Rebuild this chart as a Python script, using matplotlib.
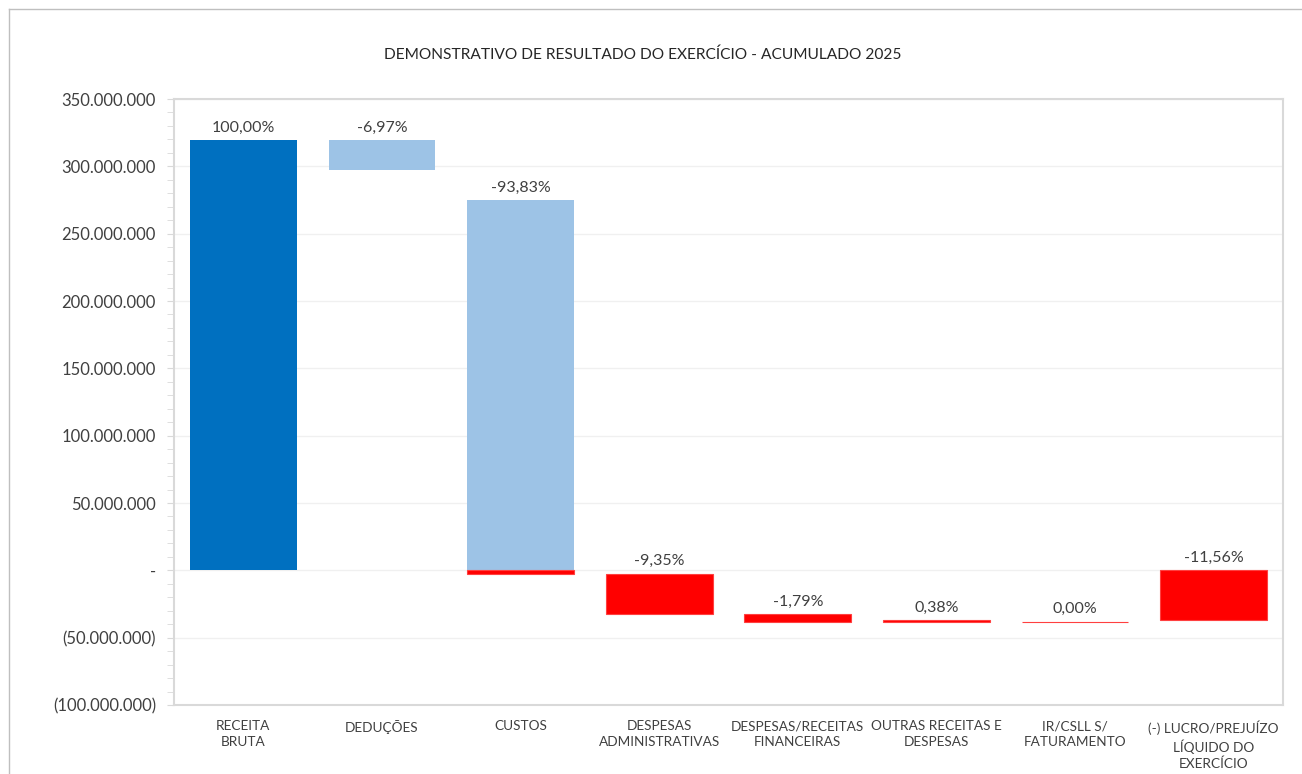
import numpy as np
import matplotlib.pyplot as plt
from matplotlib.lines import Line2D
from matplotlib.ticker import FuncFormatter, MultipleLocator

plt.rcParams['font.family'] = ['Lato', 'DejaVu Sans']

# Categorias e séries (como no gráfico empilhado do Excel), em R$
categorias = ['RECEITA\nBRUTA', 'DEDUÇÕES', 'CUSTOS', 'DESPESAS\nADMINISTRATIVAS',
              'DESPESAS/RECEITAS\nFINANCEIRAS', 'OUTRAS RECEITAS E\nDESPESAS',
              'IR/CSLL S/\nFATURAMENTO', '(-) LUCRO/PREJUÍZO\nLÍQUIDO DO\nEXERCÍCIO']
receita_bruta = [319.5e6, 0, 0, 0, 0, 0, 0, 0]
base_positiva = [0, 297.2e6, 0, 0, 0, 0, 0, 0]
reducoes = [0, 22.3e6, 275.0e6, 0, 0, 0, 0, 0]
base_negativa = [0, 0, 0, -2.6e6, -32.5e6, -37.0e6, -38.0e6, 0]
negativos = [0, 0, -2.6e6, -29.9e6, -5.7e6, -1.2e6, 0, -36.95e6]
rotulos = ['100,00%', '-6,97%', '-93,83%', '-9,35%', '-1,79%', '0,38%', '0,00%', '-11,56%']

cor_texto = '#404040'
x = np.arange(len(categorias))
largura = 0.77

fig = plt.figure(figsize=(13.02, 7.74), dpi=100)
ax = fig.add_axes([174 / 1302, 69 / 774, 1109 / 1302, 606 / 774])

ax.bar(x, receita_bruta, largura, color='#0070C0', zorder=3)
ax.bar(x, reducoes, largura, bottom=base_positiva, color='#9DC3E6', zorder=3)

# série vermelha só onde existe (a de valor zero aparece como um traço)
idx = [i for i in range(len(x)) if negativos[i] != 0 or base_negativa[i] != 0]
ax.bar(x[idx], [negativos[i] for i in idx], largura, bottom=[base_negativa[i] for i in idx],
       color='#FF0000', edgecolor='#FF4040', linewidth=0.8, zorder=3)

# rótulos de porcentagem acima de cada barra
for i in range(len(x)):
    topo_pos = receita_bruta[i] + base_positiva[i] + reducoes[i]
    topo = topo_pos if topo_pos > 0 else base_negativa[i]
    ax.annotate(rotulos[i], xy=(x[i], topo), xytext=(0, 4), textcoords='offset points',
                ha='center', va='bottom', fontsize=11.5, color=cor_texto)


def formato_contabil(v, pos):
    if abs(v) < 1:
        return '-'
    s = '{:,.0f}'.format(abs(v)).replace(',', '.')
    return '(' + s + ')' if v < 0 else s


ax.set_ylim(-100e6, 350e6)
ax.set_xlim(-0.5, len(categorias) - 0.5)
ax.yaxis.set_major_locator(MultipleLocator(50e6))
ax.yaxis.set_minor_locator(MultipleLocator(10e6))
ax.yaxis.set_major_formatter(FuncFormatter(formato_contabil))
ax.tick_params(axis='y', which='both', length=5, color='#D9D9D9', labelsize=12,
               labelcolor=cor_texto, pad=8)
ax.set_xticks(x)
ax.set_xticklabels(categorias, fontsize=9.8, color=cor_texto, linespacing=1.35)
ax.tick_params(axis='x', length=0, pad=11)
ax.grid(axis='y', which='major', color='#F0F0F0', linewidth=1, zorder=0)
for sp in ax.spines.values():
    sp.set_color('#D9D9D9')
    sp.set_linewidth(1.5)

fig.text(0.494, 1 - 55 / 774, 'DEMONSTRATIVO DE RESULTADO DO EXERCÍCIO - ACUMULADO 2025',
         ha='center', va='center', fontsize=11.2, color='#262626')

# borda externa do gráfico
fig.add_artist(Line2D([9 / 1302, 1], [1 - 9 / 774, 1 - 9 / 774], color='#BFBFBF', linewidth=1))
fig.add_artist(Line2D([9 / 1302, 9 / 1302], [0, 1 - 9 / 774], color='#BFBFBF', linewidth=1))

plt.savefig('out.png', dpi=100)
